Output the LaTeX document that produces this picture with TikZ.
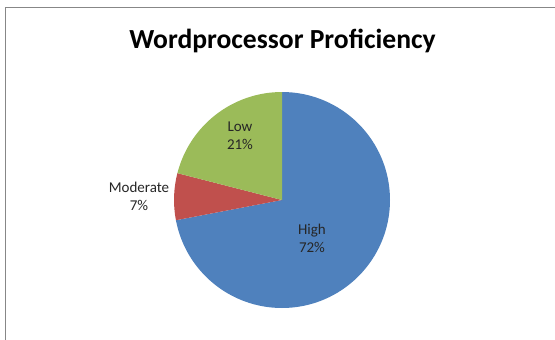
\documentclass[tikz,border=0pt]{standalone}
\usepackage{fontspec}
\setmainfont{Carlito}
\definecolor{highc}{HTML}{4F81BD}
\definecolor{modc}{HTML}{C0504D}
\definecolor{lowc}{HTML}{9BBB59}
\definecolor{framec}{HTML}{878787}
\definecolor{labelc}{HTML}{262626}
\tikzset{
  slicelabel/.style={align=center, text=labelc, font=\fontsize{15}{18}\selectfont, inner sep=0pt},
  charttitle/.style={font=\bfseries\fontsize{27.6}{32}\selectfont, text=black, inner sep=0pt}
}
\begin{document}
\begin{tikzpicture}[x=1pt,y=1pt]
\useasboundingbox (0,-340) rectangle (555,0);
% chart frame (top and left edges inside the page)
\draw[framec, line width=1pt] (5,-345) -- (5,-7) -- (560,-7);
% title
\node[charttitle] (title) at (282.5,-41) {Wordprocessor Proficiency};
% pie
\coordinate (c) at (282,-200);
\def\rad{108pt}
\fill[highc] (c) -- ++(90:\rad) arc[start angle=90, end angle=-169.2, radius=\rad] -- cycle;
\fill[modc] (c) -- ++(-169.2:\rad) arc[start angle=-169.2, end angle=-194.4, radius=\rad] -- cycle;
\fill[lowc] (c) -- ++(165.6:\rad) arc[start angle=165.6, end angle=90, radius=\rad] -- cycle;
% slice labels
\node[slicelabel] (low) at (240,-136) {Low\\21\%};
\node[slicelabel] (mod) at (139,-196) {Moderate\\7\%};
\node[slicelabel] (high) at (312,-238) {High\\72\%};
\end{tikzpicture}
\end{document}
